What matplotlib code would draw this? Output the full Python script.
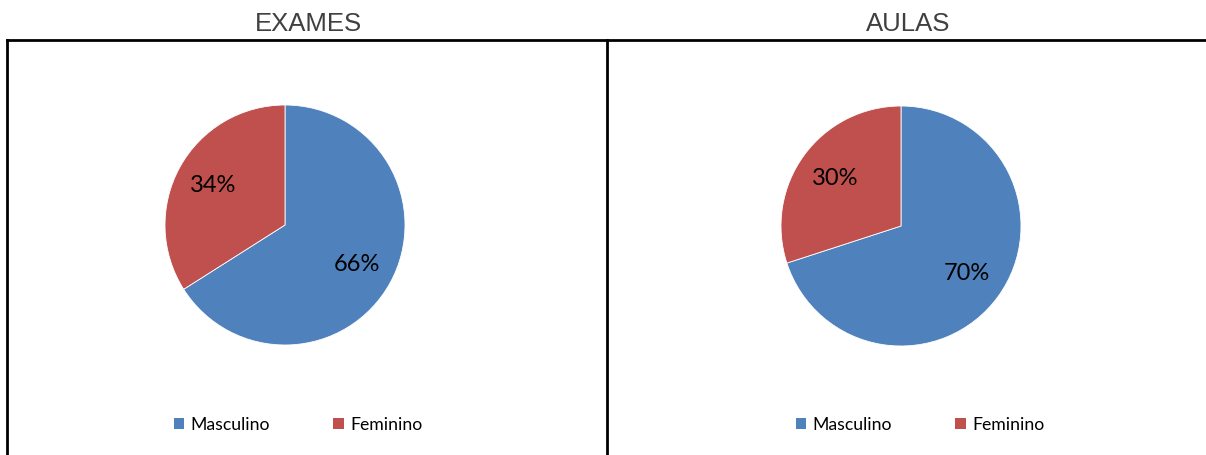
import matplotlib
matplotlib.use("Agg")
import matplotlib.pyplot as plt
from matplotlib.lines import Line2D
from matplotlib.patches import Patch

# data
categories = ["Masculino", "Feminino"]
exames_pct = [66, 34]
aulas_pct = [70, 30]
titles = ["EXAMES", "AULAS"]
colors = ["#4F81BD", "#C0504D"]

W, H = 1206, 455
fig = plt.figure(figsize=(W / 100, H / 100), dpi=100)


def px_box(cx, cy, r):
    # axes box in figure fractions from pixel centre/radius (y from top)
    return [(cx - r) / W, 1 - (cy + r) / H, 2 * r / W, 2 * r / H]


def pct_label(v):
    return f"{v:.0f}%"


panels = [
    (exames_pct, 285, 225, 308, 298),
    (aulas_pct, 901, 226, 908, 920),
]

for (vals, cx, cy, tx, lx), title in zip(panels, titles):
    ax = fig.add_axes(px_box(cx, cy, 120))
    ax.pie(vals, colors=colors, startangle=90, counterclock=False,
           autopct=pct_label, pctdistance=0.68, radius=1.0,
           textprops=dict(fontsize=17, family="Lato", color="black"),
           wedgeprops=dict(linewidth=0.6, edgecolor="white"))
    ax.set_xlim(-1, 1)
    ax.set_ylim(-1, 1)
    ax.axis("off")

    fig.text(tx / W, 1 - 24 / H, title, ha="center", va="center",
             fontsize=18.5, family="Liberation Sans", color="#404040")

    handles = [Patch(facecolor=c, edgecolor="none") for c in colors]
    fig.legend(handles, categories, loc="center",
               bbox_to_anchor=(lx / W, 1 - 425 / H), ncol=2, frameon=False,
               prop=dict(family="Lato", size=12.7), handlelength=0.6,
               handleheight=0.6, handletextpad=0.35, columnspacing=3.6)

# panel borders
line_kw = dict(color="black", linewidth=2, transform=fig.transFigure)
fig.add_artist(Line2D([7 / W, 1], [1 - 40 / H, 1 - 40 / H], **line_kw))
fig.add_artist(Line2D([7 / W, 7 / W], [0, 1 - 40 / H], **line_kw))
fig.add_artist(Line2D([607 / W, 607 / W], [0, 1 - 40 / H], **line_kw))

fig.savefig("out.png", dpi=100)
